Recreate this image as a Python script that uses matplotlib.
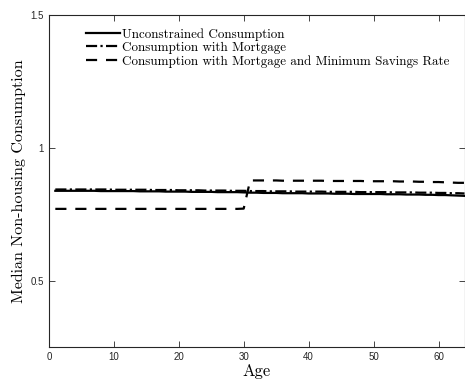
import matplotlib
matplotlib.use("Agg")
import matplotlib.pyplot as plt

ages = list(range(1, 65))

unconstrained = [
    0.838, 0.838, 0.838, 0.838, 0.838, 0.838, 0.838, 0.837, 0.837, 0.837,
    0.837, 0.837, 0.837, 0.836, 0.836, 0.836, 0.836, 0.835, 0.835, 0.835,
    0.835, 0.834, 0.834, 0.834, 0.834, 0.833, 0.833, 0.833, 0.833, 0.832,
    0.831, 0.831, 0.830, 0.830, 0.830, 0.829, 0.829, 0.829, 0.829, 0.828,
    0.828, 0.828, 0.828, 0.827, 0.827, 0.827, 0.826, 0.826, 0.826, 0.826,
    0.826, 0.825, 0.825, 0.825, 0.824, 0.824, 0.824, 0.823, 0.823, 0.822,
    0.822, 0.821, 0.820, 0.819,
]
mortgage = [
    0.843, 0.843, 0.843, 0.843, 0.843, 0.843, 0.843, 0.843, 0.843, 0.842,
    0.842, 0.842, 0.842, 0.842, 0.842, 0.841, 0.841, 0.841, 0.841, 0.840,
    0.840, 0.840, 0.840, 0.839, 0.839, 0.839, 0.839, 0.838, 0.838, 0.838,
    0.837, 0.837, 0.837, 0.836, 0.836, 0.836, 0.836, 0.835, 0.835, 0.835,
    0.835, 0.835, 0.834, 0.834, 0.834, 0.834, 0.834, 0.833, 0.833, 0.833,
    0.833, 0.833, 0.832, 0.832, 0.832, 0.832, 0.831, 0.831, 0.831, 0.830,
    0.830, 0.829, 0.829, 0.828,
]
min_savings = [
    0.770, 0.770, 0.770, 0.770, 0.770, 0.770, 0.770, 0.770, 0.770, 0.770,
    0.770, 0.770, 0.770, 0.770, 0.770, 0.770, 0.770, 0.770, 0.770, 0.770,
    0.770, 0.770, 0.770, 0.770, 0.770, 0.770, 0.770, 0.770, 0.770, 0.771,
    0.877, 0.877, 0.877, 0.877, 0.877, 0.876, 0.876, 0.876, 0.876, 0.876,
    0.876, 0.876, 0.875, 0.875, 0.875, 0.875, 0.875, 0.875, 0.874, 0.874,
    0.874, 0.874, 0.874, 0.873, 0.873, 0.873, 0.872, 0.872, 0.871, 0.871,
    0.870, 0.869, 0.868, 0.868,
]

series_labels = [
    "Unconstrained Consumption",
    "Consumption with Mortgage",
    "Consumption with Mortgage and Minimum Savings Rate",
]
x_ticks = [0, 10, 20, 30, 40, 50, 60]
y_ticks = [0.5, 1.0, 1.5]
y_tick_labels = ["0.5", "1", "1.5"]

fig = plt.figure(figsize=(4.65, 3.81), dpi=100)
ax = fig.add_axes([0.105, 0.089, 0.894, 0.872])

lw = 1.6
ax.plot(ages, unconstrained, color="black", linestyle="-", linewidth=lw, label=series_labels[0])
ax.plot(ages, mortgage, color="black", linestyle=(0, (5, 1.5, 1, 1.5)), linewidth=lw, label=series_labels[1])
ax.plot(ages, min_savings, color="black", linestyle=(0, (5, 4)), linewidth=lw, label=series_labels[2])

ax.set_xlim(0, 64)
ax.set_ylim(0.25, 1.5)
ax.set_xticks(x_ticks)
ax.set_xticklabels([str(t) for t in x_ticks])
ax.set_yticks(y_ticks)
ax.set_yticklabels(y_tick_labels)
ax.tick_params(direction="in", top=True, right=True, labelsize=7, length=4, width=0.6, colors="#262626")
for lab in ax.get_xticklabels() + ax.get_yticklabels():
    lab.set_family("Liberation Sans")
    lab.set_color("#262626")
for s in ax.spines.values():
    s.set_linewidth(0.8)
    s.set_color("#262626")

ax.set_xlabel("Age", family="cmr10", fontsize=12, labelpad=1)
ax.set_ylabel("Median Non-housing Consumption", family="cmr10", fontsize=11.5, labelpad=3)

leg = ax.legend(loc="upper left", frameon=False, prop={"family": "cmr10", "size": 9.4},
                handlelength=2.6, handletextpad=0.15, labelspacing=0.1,
                bbox_to_anchor=(0.058, 1.0), borderaxespad=0.6)

fig.savefig("out.png", dpi=100)
